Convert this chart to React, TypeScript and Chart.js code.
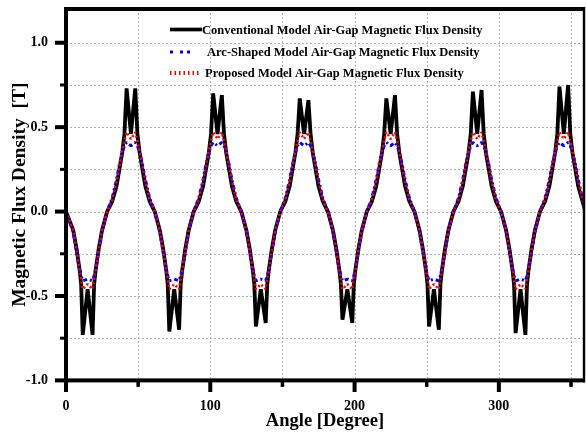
import { useEffect, useRef } from 'react';
import { Chart, registerables } from 'chart.js';

Chart.register(...registerables);

// ---- data ----
const angles = [
  0, 5, 7.5, 9.5, 10.5, 11.6, 15, 18.4, 19.5, 20.5, 22.5, 25,
  28.5, 32, 35, 37, 39, 40.5, 42, 45, 48, 49.5, 51, 53, 55, 58,
  61.5, 65, 67.5, 69.5, 70.5, 71.6, 75, 78.4, 79.5, 80.5, 82.5, 85,
  88.5, 92, 95, 97, 99, 100.5, 102, 105, 108, 109.5, 111, 113, 115, 118,
  121.5, 125, 127.5, 129.5, 130.5, 131.6, 135, 138.4, 139.5, 140.5, 142.5, 145,
  148.5, 152, 155, 157, 159, 160.5, 162, 165, 168, 169.5, 171, 173, 175, 178,
  181.5, 185, 187.5, 189.5, 190.5, 191.6, 195, 198.4, 199.5, 200.5, 202.5, 205,
  208.5, 212, 215, 217, 219, 220.5, 222, 225, 228, 229.5, 231, 233, 235, 238,
  241.5, 245, 247.5, 249.5, 250.5, 251.6, 255, 258.4, 259.5, 260.5, 262.5, 265,
  268.5, 272, 275, 277, 279, 280.5, 282, 285, 288, 289.5, 291, 293, 295, 298,
  301.5, 305, 307.5, 309.5, 310.5, 311.6, 315, 318.4, 319.5, 320.5, 322.5, 325,
  328.5, 332, 335, 337, 339, 340.5, 342, 345, 348, 349.5, 351, 353, 355, 358,
  360,
];

const conventional = [
  0, -0.11, -0.23, -0.35, -0.43, -0.73, -0.46, -0.73, -0.43, -0.35, -0.23, -0.11,
  0, 0.06, 0.15, 0.25, 0.35, 0.46, 0.73, 0.46, 0.73, 0.46, 0.35, 0.25, 0.15, 0.06,
  0, -0.11, -0.23, -0.35, -0.43, -0.71, -0.46, -0.70, -0.43, -0.35, -0.23, -0.11,
  0, 0.06, 0.15, 0.25, 0.35, 0.46, 0.70, 0.46, 0.69, 0.46, 0.35, 0.25, 0.15, 0.06,
  0, -0.11, -0.23, -0.35, -0.43, -0.68, -0.46, -0.66, -0.43, -0.35, -0.23, -0.11,
  0, 0.06, 0.15, 0.25, 0.35, 0.46, 0.67, 0.46, 0.66, 0.46, 0.35, 0.25, 0.15, 0.06,
  0, -0.11, -0.23, -0.35, -0.43, -0.64, -0.46, -0.66, -0.43, -0.35, -0.23, -0.11,
  0, 0.06, 0.15, 0.25, 0.35, 0.46, 0.67, 0.46, 0.69, 0.46, 0.35, 0.25, 0.15, 0.06,
  0, -0.11, -0.23, -0.35, -0.43, -0.68, -0.46, -0.70, -0.43, -0.35, -0.23, -0.11,
  0, 0.06, 0.15, 0.25, 0.35, 0.46, 0.71, 0.46, 0.72, 0.46, 0.35, 0.25, 0.15, 0.06,
  0, -0.11, -0.23, -0.35, -0.43, -0.72, -0.46, -0.73, -0.43, -0.35, -0.23, -0.11,
  0, 0.06, 0.15, 0.25, 0.35, 0.46, 0.74, 0.46, 0.75, 0.46, 0.35, 0.25, 0.15, 0.06,
  0,
];

const arcShaped = [
  0, -0.12, -0.25, -0.34, -0.38, -0.41, -0.40, -0.41, -0.38, -0.34, -0.25, -0.12,
  0, 0.08, 0.19, 0.28, 0.35, 0.39, 0.41, 0.39, 0.41, 0.39, 0.35, 0.28, 0.19, 0.08,
  0, -0.12, -0.25, -0.34, -0.38, -0.41, -0.40, -0.41, -0.38, -0.34, -0.25, -0.12,
  0, 0.08, 0.19, 0.28, 0.35, 0.39, 0.41, 0.39, 0.41, 0.39, 0.35, 0.28, 0.19, 0.08,
  0, -0.12, -0.25, -0.34, -0.38, -0.41, -0.40, -0.41, -0.38, -0.34, -0.25, -0.12,
  0, 0.08, 0.19, 0.28, 0.35, 0.39, 0.41, 0.39, 0.41, 0.39, 0.35, 0.28, 0.19, 0.08,
  0, -0.12, -0.25, -0.34, -0.38, -0.41, -0.40, -0.41, -0.38, -0.34, -0.25, -0.12,
  0, 0.08, 0.19, 0.28, 0.35, 0.39, 0.41, 0.39, 0.41, 0.39, 0.35, 0.28, 0.19, 0.08,
  0, -0.12, -0.25, -0.34, -0.38, -0.41, -0.40, -0.41, -0.38, -0.34, -0.25, -0.12,
  0, 0.08, 0.19, 0.28, 0.35, 0.39, 0.41, 0.39, 0.41, 0.39, 0.35, 0.28, 0.19, 0.08,
  0, -0.12, -0.25, -0.34, -0.38, -0.41, -0.40, -0.41, -0.38, -0.34, -0.25, -0.12,
  0, 0.08, 0.19, 0.28, 0.35, 0.39, 0.41, 0.39, 0.41, 0.39, 0.35, 0.28, 0.19, 0.08,
  0,
];

const proposed = [
  0, -0.11, -0.24, -0.35, -0.40, -0.46, -0.43, -0.46, -0.40, -0.35, -0.24, -0.11,
  0, 0.07, 0.18, 0.27, 0.36, 0.42, 0.47, 0.43, 0.47, 0.42, 0.36, 0.27, 0.18, 0.07,
  0, -0.11, -0.24, -0.35, -0.40, -0.46, -0.43, -0.46, -0.40, -0.35, -0.24, -0.11,
  0, 0.07, 0.18, 0.27, 0.36, 0.42, 0.47, 0.43, 0.47, 0.42, 0.36, 0.27, 0.18, 0.07,
  0, -0.11, -0.24, -0.35, -0.40, -0.46, -0.43, -0.46, -0.40, -0.35, -0.24, -0.11,
  0, 0.07, 0.18, 0.27, 0.36, 0.42, 0.47, 0.43, 0.47, 0.42, 0.36, 0.27, 0.18, 0.07,
  0, -0.11, -0.24, -0.35, -0.40, -0.46, -0.43, -0.46, -0.40, -0.35, -0.24, -0.11,
  0, 0.07, 0.18, 0.27, 0.36, 0.42, 0.47, 0.43, 0.47, 0.42, 0.36, 0.27, 0.18, 0.07,
  0, -0.11, -0.24, -0.35, -0.40, -0.46, -0.43, -0.46, -0.40, -0.35, -0.24, -0.11,
  0, 0.07, 0.18, 0.27, 0.36, 0.42, 0.47, 0.43, 0.47, 0.42, 0.36, 0.27, 0.18, 0.07,
  0, -0.11, -0.24, -0.35, -0.40, -0.46, -0.43, -0.46, -0.40, -0.35, -0.24, -0.11,
  0, 0.07, 0.18, 0.27, 0.36, 0.42, 0.47, 0.43, 0.47, 0.42, 0.36, 0.27, 0.18, 0.07,
  0,
];

const seriesLabels = [
  'Conventional Model Air-Gap Magnetic Flux Density',
  'Arc-Shaped Model Air-Gap Magnetic Flux Density',
  'Proposed Model Air-Gap Magnetic Flux Density',
];

const xMajorTicks = [0, 100, 200, 300];
const xMinorTicks = [50, 150, 250, 350];
const yMajorTicks = [-1.0, -0.5, 0.0, 0.5, 1.0];
const yMinorTicks = [-0.75, -0.25, 0.25, 0.75];
const xTitle = 'Angle [Degree]';
const yTitle = 'Magnetic Flux Density  [T]';

// ---- styles ----
const SERIF = '"Liberation Serif", "Times New Roman", serif';
const seriesStyles = [
  { color: '#000000', width: 3.8, dash: [] as number[] },
  { color: '#0000ff', width: 3, dash: [4, 3, 2, 3] },
  { color: '#ff0000', width: 2.5, dash: [2, 2.5] },
];

const isIn = (arr: number[], v: number) => arr.some((m) => Math.abs(m - v) < 1e-6);

const framePlugin = {
  id: 'frame',
  beforeDatasetsDraw(chart: any) {
    const { ctx, chartArea: a, scales } = chart;
    const x = scales.x;
    const y = scales.y;
    ctx.save();
    ctx.strokeStyle = '#b0b0b0';
    ctx.lineWidth = 1;
    ctx.setLineDash([2, 2]);
    ctx.beginPath();
    [...xMajorTicks, ...xMinorTicks].forEach((v) => {
      if (v <= 0) return;
      const px = Math.round(x.getPixelForValue(v)) + 0.5;
      ctx.moveTo(px, a.top);
      ctx.lineTo(px, a.bottom);
    });
    [...yMajorTicks, ...yMinorTicks].forEach((v) => {
      if (v <= -1) return;
      const py = Math.round(y.getPixelForValue(v)) + 0.5;
      ctx.moveTo(a.left, py);
      ctx.lineTo(a.right, py);
    });
    ctx.stroke();
    ctx.restore();
  },
  afterDatasetsDraw(chart: any) {
    const { ctx, chartArea: a, scales } = chart;
    const x = scales.x;
    const y = scales.y;
    ctx.save();
    ctx.fillStyle = '#000';
    // frame
    ctx.fillRect(a.left - 2, a.top - 2, a.right - a.left + 3, 4);
    ctx.fillRect(a.right - 1.2, a.top - 2, 2.4, a.bottom - a.top + 4);
    ctx.fillRect(a.left - 2, a.top - 2, 4, a.bottom - a.top + 4);
    ctx.fillRect(a.left - 2, a.bottom - 2, a.right - a.left + 3, 4);
    // y ticks
    yMajorTicks.forEach((v) => {
      const py = y.getPixelForValue(v);
      ctx.fillRect(a.left - 11, py - 2, 11, 4);
    });
    yMinorTicks.forEach((v) => {
      const py = y.getPixelForValue(v);
      ctx.fillRect(a.left - 6, py - 1.5, 6, 3);
    });
    // x ticks
    xMajorTicks.forEach((v) => {
      const px = x.getPixelForValue(v);
      ctx.fillRect(px - 2, a.bottom, 4, 11.6);
    });
    xMinorTicks.forEach((v) => {
      const px = x.getPixelForValue(v);
      ctx.fillRect(px - 1.75, a.bottom, 3.5, 6.5);
    });

    // legend
    const rows = [
      { y: a.top + 20.5, x0: a.left + 104, x1: a.left + 136, tx: a.left + 136 },
      { y: a.top + 43, x0: a.left + 104, x1: a.left + 130, tx: a.left + 141 },
      { y: a.top + 64, x0: a.left + 104, x1: a.left + 134, tx: a.left + 139 },
    ];
    ctx.font = `bold 12.5px ${SERIF}`;
    ctx.textBaseline = 'middle';
    ctx.textAlign = 'left';
    rows.forEach((r, i) => {
      const s = seriesStyles[i];
      ctx.save();
      ctx.strokeStyle = s.color;
      ctx.lineWidth = i === 0 ? 3.7 : i === 1 ? 3 : 4;
      ctx.setLineDash(i === 0 ? [] : i === 1 ? [3, 7, 3, 4] : [1.5, 3]);
      ctx.beginPath();
      ctx.moveTo(r.x0, r.y);
      ctx.lineTo(r.x1, r.y);
      ctx.stroke();
      ctx.restore();
      ctx.fillStyle = '#000';
      ctx.fillText(seriesLabels[i], r.tx, r.y + 1);
    });
    ctx.restore();
  },
};

export default function App() {
  const ref = useRef<HTMLCanvasElement>(null);

  useEffect(() => {
    document.body.style.margin = '0';
    const datasets = [conventional, arcShaped, proposed].map((vals, i) => ({
      label: seriesLabels[i],
      data: angles.map((a, j) => ({ x: a, y: vals[j] })),
      borderColor: seriesStyles[i].color,
      backgroundColor: seriesStyles[i].color,
      borderWidth: seriesStyles[i].width,
      borderDash: seriesStyles[i].dash,
      borderJoinStyle: 'bevel',
      pointRadius: 0,
      tension: 0,
      fill: false,
      order: 3 - i,
    }));

    const chart = new Chart(ref.current as HTMLCanvasElement, {
      type: 'line',
      data: { datasets },
      options: {
        responsive: false,
        animation: false,
        devicePixelRatio: 1,
        layout: { padding: { left: 0, right: 2, top: 9, bottom: 0 } },
        plugins: { legend: { display: false }, tooltip: { enabled: false } },
        scales: {
          x: {
            type: 'linear',
            min: 0,
            max: 359,
            afterFit: (s: any) => {
              s.height = 54.6;
              s.paddingLeft = 0;
              s.paddingRight = 0;
              s.paddingTop = 0;
              s.paddingBottom = 0;
            },
            afterBuildTicks: (s: any) => {
              s.ticks = [...xMajorTicks, ...xMinorTicks].sort((p, q) => p - q).map((v) => ({ value: v }));
            },
            grid: { display: false, drawTicks: false },
            border: { display: false },
            ticks: {
              autoSkip: false,
              maxRotation: 0,
              padding: 17.6,
              color: '#000',
              font: { family: SERIF, size: 14, weight: 'bold' },
              callback: (v: any) => (isIn(xMajorTicks, Number(v)) ? String(Math.round(Number(v))) : ''),
            },
            title: {
              display: true,
              text: xTitle,
              color: '#000',
              font: { family: SERIF, size: 18.5, weight: 'bold' },
              padding: { top: 0, bottom: 2.9 },
            },
          },
          y: {
            type: 'linear',
            min: -1,
            max: 1.2,
            afterFit: (s: any) => {
              s.width = 66;
              s.paddingLeft = 0;
              s.paddingRight = 0;
              s.paddingTop = 0;
              s.paddingBottom = 0;
            },
            afterBuildTicks: (s: any) => {
              s.ticks = [...yMajorTicks, ...yMinorTicks].sort((p, q) => p - q).map((v) => ({ value: v }));
            },
            grid: { display: false, drawTicks: false },
            border: { display: false },
            ticks: {
              autoSkip: false,
              padding: 18,
              color: '#000',
              font: { family: SERIF, size: 14, weight: 'bold' },
              callback: (v: any) => (isIn(yMajorTicks, Number(v)) ? Number(v).toFixed(1) : ''),
            },
            title: {
              display: true,
              text: yTitle,
              color: '#000',
              font: { family: SERIF, size: 19.5, weight: 'bold' },
              padding: { top: 7.8, bottom: 0 },
            },
          },
        },
      } as any,
      plugins: [framePlugin],
    });
    return () => chart.destroy();
  }, []);

  return (
    <div style={{ width: 586, height: 435, background: '#fff' }}>
      <canvas ref={ref} width={586} height={435} style={{ display: 'block' }} />
    </div>
  );
}
